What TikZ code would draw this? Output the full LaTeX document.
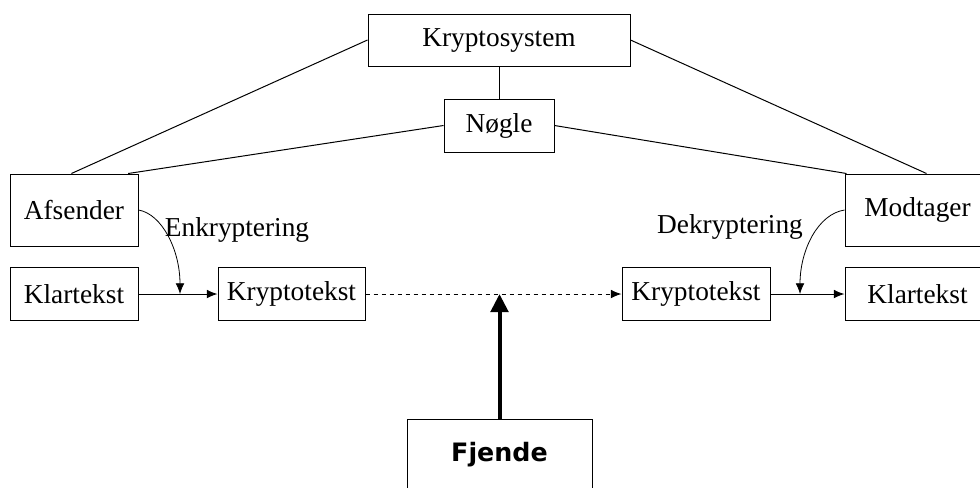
\documentclass[tikz,border=0pt]{standalone}
\usepackage{fontspec}
\setmainfont{Liberation Serif}
\newfontfamily\fjendefont{DejaVu Sans}
\usetikzlibrary{positioning, calc, arrows.meta}

\begin{document}
\begin{tikzpicture}[x=0.75pt, y=-0.75pt,
    boks/.style={draw, line width=0.75pt, inner sep=0pt, font=\fontsize{20.5}{24}\selectfont},
    etiket/.style={inner sep=0pt, font=\fontsize{20.5}{24}\selectfont},
    pil/.style={line width=0.75pt, -{Latex[length=8pt,width=6.5pt]}}]
      \useasboundingbox (0,0) rectangle (980,487);

      \node[boks, minimum width=196.5pt, minimum height=39pt] (KS1) at (499,40) {Kryptosystem};
      \node[boks, minimum width=82.5pt, minimum height=39.75pt] (KS2) at (499,125.5) {Nøgle};

      \node[boks, minimum width=96pt, minimum height=54pt] (KS3) at (74,210) {Afsender};
      \node[boks, minimum width=96pt, minimum height=39.75pt] (KS4) at (74,294) {Klartekst};
      \node[boks, minimum width=110.25pt, minimum height=39.75pt] (KS5) at (291.5,294) {Kryptotekst};

      \node[boks, minimum width=111pt, minimum height=39.75pt] (KS6) at (696,294) {Kryptotekst};
      \node[boks, minimum width=108.75pt, minimum height=54pt] (KS7) at (917.5,210) {Modtager};
      \node[boks, minimum width=108.75pt, minimum height=39.75pt] (KS8) at (917.5,294) {Klartekst};

      \node[boks, minimum width=138.75pt, minimum height=54pt,
            font={\fjendefont\bfseries\fontsize{19}{23}\selectfont}] (KS9) at (499.5,455) {Fjende};

      \node[etiket] (KS10) at (237,230) {Enkryptering};
      \node[etiket] (KS11) at (730,227) {Dekryptering};

      \coordinate (enc) at (180,294);
      \coordinate (dec) at (800,294);
      \coordinate (att) at (499.5,294);

      \draw[line width=0.75pt] (node cs:name=KS1, anchor=south) -- (node cs:name=KS2, anchor=north);
      \draw[line width=0.75pt] (node cs:name=KS1, anchor=west) -- ($(KS3.north west)!0.48!(KS3.north east)$);
      \draw[line width=0.75pt] (node cs:name=KS2, anchor=west) -- ($(KS3.north west)!0.92!(KS3.north east)$);
      \draw[line width=0.75pt] (node cs:name=KS2, anchor=east) -- ($(KS7.north west)+(2,0)$);
      \draw[line width=0.75pt] (node cs:name=KS1, anchor=east) -- ($(KS7.north west)+(82,0)$);

      \draw[pil] (node cs:name=KS4, anchor=east) -- (node cs:name=KS5, anchor=west);
      \draw[pil, dash pattern=on 3pt off 3pt] (node cs:name=KS5, anchor=east) -- (node cs:name=KS6, anchor=west);
      \draw[pil] (node cs:name=KS6, anchor=east) -- (node cs:name=KS8, anchor=west);

      \draw[pil, line width=0.6pt] (node cs:name=KS3, anchor=east) .. controls (162,214) and (180,250) .. (enc);
      \draw[pil, line width=0.6pt] (node cs:name=KS7, anchor=west) .. controls (818,214) and (800,250) .. (dec);

      \draw[line width=3pt, -{Triangle[length=13.5pt,width=13pt]}] (node cs:name=KS9, anchor=north) -- (att);
    \end{tikzpicture}
\end{document}
